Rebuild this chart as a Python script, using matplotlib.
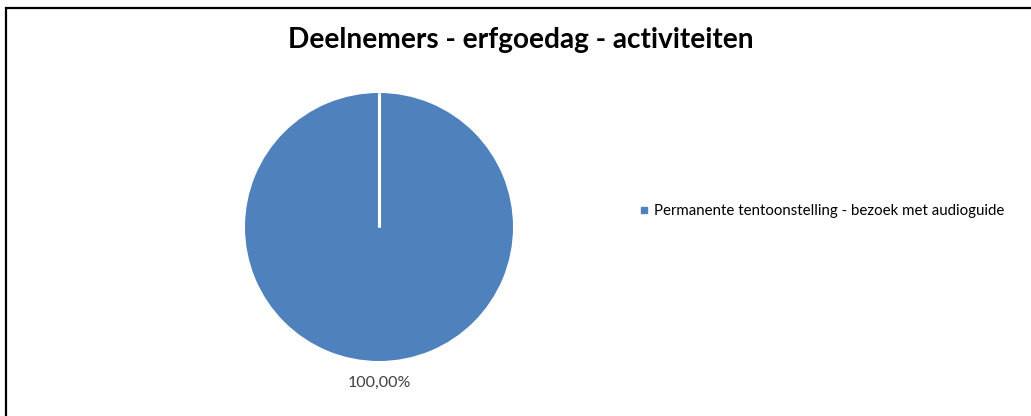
import matplotlib.pyplot as plt
from matplotlib.patches import Rectangle
from matplotlib.lines import Line2D
import numpy as np

# data
categories = ["Permanente tentoonstelling - bezoek met audioguide"]
values = [100.0]
title = "Deelnemers - erfgoedag - activiteiten"
slice_color = "#4F81BD"

W, H = 1031, 416
fig = plt.figure(figsize=(W / 100, H / 100), dpi=100)
fig.patch.set_facecolor("white")

# chart frame (cut off at right and bottom like the original)
fig.patches.append(Rectangle((5.5 / W, -0.05), 1.1, 1 - 7.5 / H + 0.05,
                             transform=fig.transFigure, fill=False,
                             edgecolor="black", linewidth=1.6, zorder=0))

# pie axes: centre at (379, 227) px, radius 134 px
cx, cy, r = 379, 227, 134
ax = fig.add_axes([(cx - r) / W, (H - cy - r) / H, 2 * r / W, 2 * r / H])

def pct_label(p):
    return f"{p:.2f}".replace(".", ",") + "%"

wedges, texts, autotexts = ax.pie(values, colors=[slice_color], startangle=90,
                                  counterclock=False, radius=1,
                                  autopct=pct_label, pctdistance=1.16,
                                  wedgeprops=dict(linewidth=0))
for t in autotexts:
    t.set_color("#404040")
    t.set_fontsize(11.5)
    t.set_fontfamily("Lato")

# white separators at the slice boundaries
for w in wedges:
    for ang in (w.theta1, w.theta2):
        a = np.deg2rad(ang)
        ax.plot([0, w.r * np.cos(a)], [0, w.r * np.sin(a)], color="white",
                linewidth=2.2, solid_capstyle="butt", zorder=5)
ax.set_xlim(-1, 1)
ax.set_ylim(-1, 1)
ax.set_aspect("equal")
ax.axis("off")

fig.text(521 / W, 1 - 40 / H, title, ha="center", va="center",
         fontsize=20.2, fontweight="bold", family="Lato")

handles = [Line2D([], [], marker="s", linestyle="none", color=slice_color,
                  markersize=5) for _ in categories]
fig.legend(handles, categories, loc="center left",
           bbox_to_anchor=(636 / W, 1 - 211 / H), frameon=False,
           prop=dict(family="Lato", size=10.85), handletextpad=0.2,
           handlelength=1.0, borderpad=0, borderaxespad=0)

fig.savefig("out.png", dpi=100, facecolor="white")
